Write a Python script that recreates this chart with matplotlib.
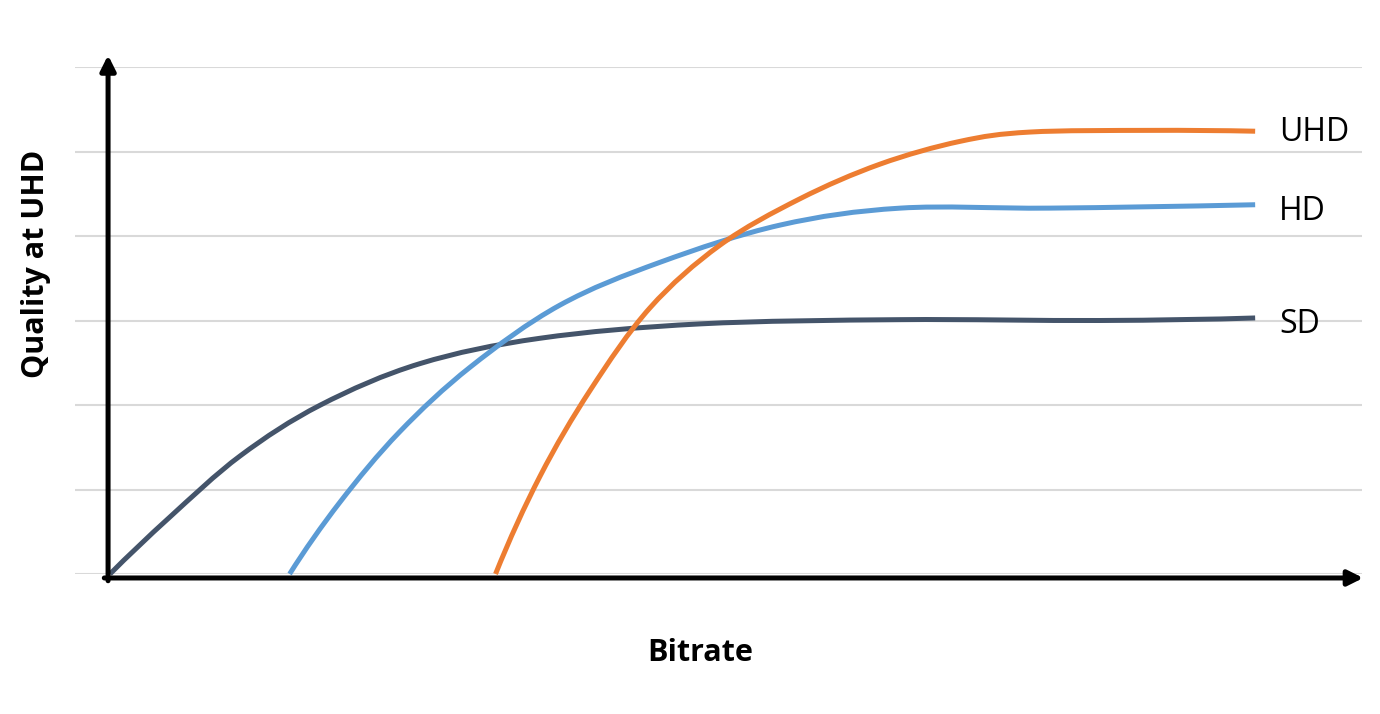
import matplotlib
matplotlib.use("Agg")
import matplotlib.pyplot as plt
from matplotlib.path import Path
from matplotlib.patches import PathPatch

plt.rcParams['font.family'] = ['Open Sans', 'DejaVu Sans']

# Data (x: bitrate units, y: quality units)
sd_x = [0.00, 0.52, 1.14, 1.84, 2.71, 3.76, 5.16, 6.91, 8.65, 10.01]
sd_y = [0.00, 0.67, 1.40, 2.00, 2.49, 2.79, 2.96, 3.01, 3.00, 3.03]

hd_x = [1.57, 2.01, 2.53, 3.15, 3.93, 4.81, 5.86, 6.91, 8.22, 10.01]
hd_y = [0.00, 0.85, 1.68, 2.45, 3.18, 3.69, 4.13, 4.33, 4.33, 4.37]

uhd_x = [3.37, 3.76, 4.20, 4.72, 5.33, 6.03, 6.73, 7.43, 8.04, 9.09, 10.01]
uhd_y = [0.00, 1.16, 2.18, 3.15, 3.89, 4.44, 4.85, 5.12, 5.23, 5.25, 5.24]

series_names = ["SD", "HD", "UHD"]
series_colors = ["#44546A", "#5B9BD5", "#ED7D31"]
label_baselines = [2.85, 4.19, 5.12]
label_x = 10.22
grid_levels = [0, 1, 2, 3, 4, 5, 6]


def smooth_path(xs, ys):
    """Cubic Bezier path (Catmull-Rom tangents) through the given points."""
    pts = list(zip(xs, ys))
    n = len(pts)
    tang = []
    for i in range(n):
        if 0 < i < n - 1:
            tang.append(((pts[i + 1][0] - pts[i - 1][0]) / 2.0, (pts[i + 1][1] - pts[i - 1][1]) / 2.0))
        else:
            tang.append(None)
    # quadratic end conditions keep the curvature at the ends
    tang[0] = (2 * (pts[1][0] - pts[0][0]) - tang[1][0], 2 * (pts[1][1] - pts[0][1]) - tang[1][1])
    tang[-1] = (2 * (pts[-1][0] - pts[-2][0]) - tang[-2][0], 2 * (pts[-1][1] - pts[-2][1]) - tang[-2][1])
    verts = [pts[0]]
    codes = [Path.MOVETO]
    for i in range(n - 1):
        p1, p2 = pts[i], pts[i + 1]
        c1 = (p1[0] + tang[i][0] / 3.0, p1[1] + tang[i][1] / 3.0)
        c2 = (p2[0] - tang[i + 1][0] / 3.0, p2[1] - tang[i + 1][1] / 3.0)
        verts += [c1, c2, p2]
        codes += [Path.CURVE4] * 3
    return Path(verts, codes)


fig = plt.figure(figsize=(13.8, 7.14), dpi=100)
ax = fig.add_axes([75/1380, (714-574)/714, 1287/1380, 507/714])
ax.set_xlim(-0.306, 10.944)
ax.set_ylim(0, 6)

for g in grid_levels:
    ax.axhline(g, color="#D9D9D9", lw=1.5, zorder=0)

series = [(sd_x, sd_y), (hd_x, hd_y), (uhd_x, uhd_y)]
for (xs, ys), name, col, lb in zip(series, series_names, series_colors, label_baselines):
    patch = PathPatch(smooth_path(xs, ys), facecolor='none', edgecolor=col, lw=3.6,
                      joinstyle='round', capstyle='butt', zorder=3, clip_on=False)
    ax.add_patch(patch)
    ax.text(label_x, lb, name, ha='left', va='baseline', fontsize=23, color='black')

for s in ax.spines.values():
    s.set_visible(False)
ax.set_xticks([])
ax.set_yticks([])

# axis arrows
ax.annotate("", xy=(-0.017, 6.14), xytext=(-0.017, -0.08), xycoords='data',
            arrowprops=dict(arrowstyle='-|>,head_length=0.9,head_width=0.45', lw=3.6, color='black',
                            shrinkA=0, shrinkB=0), annotation_clip=False, zorder=5)
ax.annotate("", xy=(10.955, -0.047), xytext=(-0.05, -0.047), xycoords='data',
            arrowprops=dict(arrowstyle='-|>,head_length=0.9,head_width=0.45', lw=3.6, color='black',
                            shrinkA=0, shrinkB=0), annotation_clip=False, zorder=5)

fig.text(700/1380, 1 - 653/714, "Bitrate", ha='center', va='center', fontsize=22, fontweight='bold')
fig.text(36/1380, 1 - 264/714, "Quality at UHD", ha='center', va='center', rotation=90,
         fontsize=22, fontweight='bold')

fig.savefig("out.png", dpi=100, facecolor='white')
